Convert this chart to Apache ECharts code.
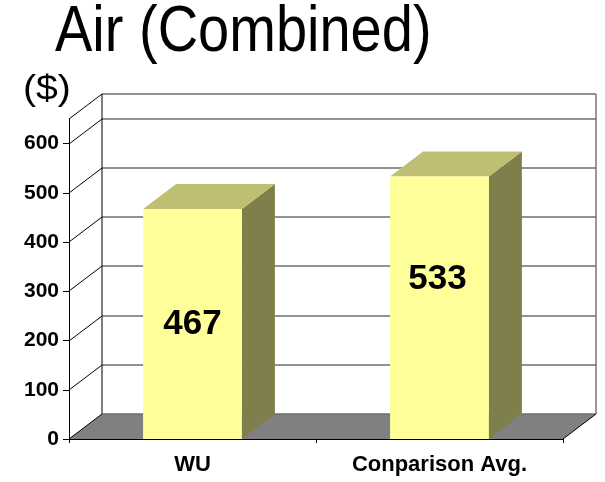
<!DOCTYPE html>
<html>
<head>
<meta charset="utf-8">
<script src="https://cdn.jsdelivr.net/npm/echarts@6/dist/echarts.min.js"></script>
<style>
  html, body { margin: 0; padding: 0; background: #ffffff; }
  #chart { width: 605px; height: 482px; }
</style>
</head>
<body>
<div id="chart"></div>
<script>
// Air travel cost, combined ($)
const categories = ['WU', 'Conparison Avg.'];
const values = [467, 533];
const yTicks = [0, 100, 200, 300, 400, 500, 600];
const yMax = 650;

// Look of the 3D box
const DX = 33, DY = 25;              // depth offset of walls and bars
const labelRaise = [0, 28];          // extra lift of each value label, px
const FONT = 'Arial, "Liberation Sans", Helvetica, sans-serif';
const FRONT = '#FFFF99', TOP = '#BFBF73', SIDE = '#7F7F4C';

const chart = echarts.init(document.getElementById('chart'));

function line(x1, y1, x2, y2, stroke, w) {
  return { type: 'line', shape: { x1, y1, x2, y2 }, style: { stroke, lineWidth: w }, silent: true };
}

// Back wall, side wall and floor of the 3D plot area
function renderWalls(params, api) {
  const cs = params.coordSys;
  const x0 = cs.x, x1 = cs.x + cs.width;
  const yF = api.coord([0, 0])[1];
  const yT = api.coord([0, yMax])[1];
  const els = [];
  els.push({ type: 'rect', shape: { x: x0 + DX, y: yT - DY, width: x1 - x0, height: yF - yT }, style: { fill: '#ffffff' }, silent: true });
  els.push({ type: 'polygon', shape: { points: [[x0, yF], [x1, yF], [x1 + DX, yF - DY], [x0 + DX, yF - DY]] }, style: { fill: '#808080' }, silent: true });
  const levels = yTicks.concat([yMax]);
  levels.forEach(v => {
    const y = Math.round(api.coord([0, v])[1]);
    els.push(line(x0 + DX, y - DY, x1 + DX, y - DY, '#6e6e6e', 1.4));
    els.push(line(x0, y, x0 + DX, y - DY, '#000000', 1));
  });
  els.push(line(x0 + DX, yT - DY, x0 + DX, yF - DY, '#000000', 1));
  els.push(line(x1 + DX, yT - DY, x1 + DX, yF - DY, '#6e6e6e', 1.4));
  els.push(line(x1, yF, x1 + DX, yF - DY, '#000000', 1));
  return { type: 'group', children: els };
}

// One 3D bar: side, top and front faces plus its value label
function renderBar(params, api) {
  const c = api.value(0), v = api.value(1);
  const top = api.coord([c, v]);
  const base = api.coord([c, 0]);
  const bw = api.size([1, 0])[0] * 0.4;
  const xl = top[0] - bw / 2, xr = top[0] + bw / 2;
  const yt = top[1], yb = base[1];
  return {
    type: 'group',
    children: [
      { type: 'polygon', shape: { points: [[xr, yt], [xr + DX, yt - DY], [xr + DX, yb - DY], [xr, yb]] }, style: { fill: SIDE } },
      { type: 'polygon', shape: { points: [[xl, yt], [xr, yt], [xr + DX, yt - DY], [xl + DX, yt - DY]] }, style: { fill: TOP } },
      { type: 'rect', shape: { x: xl, y: yt, width: bw, height: yb - yt }, style: { fill: FRONT } },
      { type: 'text', style: { text: String(v), x: top[0] - 2 * params.dataIndex, y: (yt + yb) / 2 - labelRaise[params.dataIndex],
          textAlign: 'center', textVerticalAlign: 'middle', font: 'bold 35px ' + FONT, fill: '#000000' } }
    ]
  };
}

const option = {
  animation: false,
  grid: { left: 69, right: 42, top: 119, bottom: 43 },
  xAxis: {
    type: 'category',
    data: categories,
    z: 5,
    axisLine: { show: true, lineStyle: { color: '#000000', width: 1 } },
    axisTick: { show: true, length: 4, lineStyle: { color: '#000000' } },
    axisLabel: { interval: 0, color: '#000000', fontFamily: FONT, fontWeight: 'bold', fontSize: 22, margin: 15 }
  },
  yAxis: {
    type: 'value',
    min: 0,
    max: yMax,
    interval: 100,
    z: 5,
    axisLine: { show: true, lineStyle: { color: '#000000', width: 1 } },
    axisTick: { show: true, length: 6, customValues: yTicks, lineStyle: { color: '#000000' } },
    axisLabel: { customValues: yTicks, color: '#000000', fontFamily: FONT, fontWeight: 'bold', fontSize: 21, margin: 10 },
    splitLine: { show: false }
  },
  graphic: [
    { type: 'text', x: 55, y: 33, scaleX: 0.875, style: { text: 'Air (Combined)', font: '64px ' + FONT, fill: '#000000', textVerticalAlign: 'middle' } },
    { type: 'text', x: 23, y: 90, scaleX: 1.12, style: { text: '($)', font: '35px ' + FONT, fill: '#000000', textVerticalAlign: 'middle' } }
  ],
  series: [
    { type: 'custom', z: 1, renderItem: renderWalls, data: [[0, 0]], silent: true },
    { type: 'custom', z: 3, renderItem: renderBar, data: values.map((v, i) => [i, v]) }
  ]
};

chart.setOption(option);
</script>
</body>
</html>
